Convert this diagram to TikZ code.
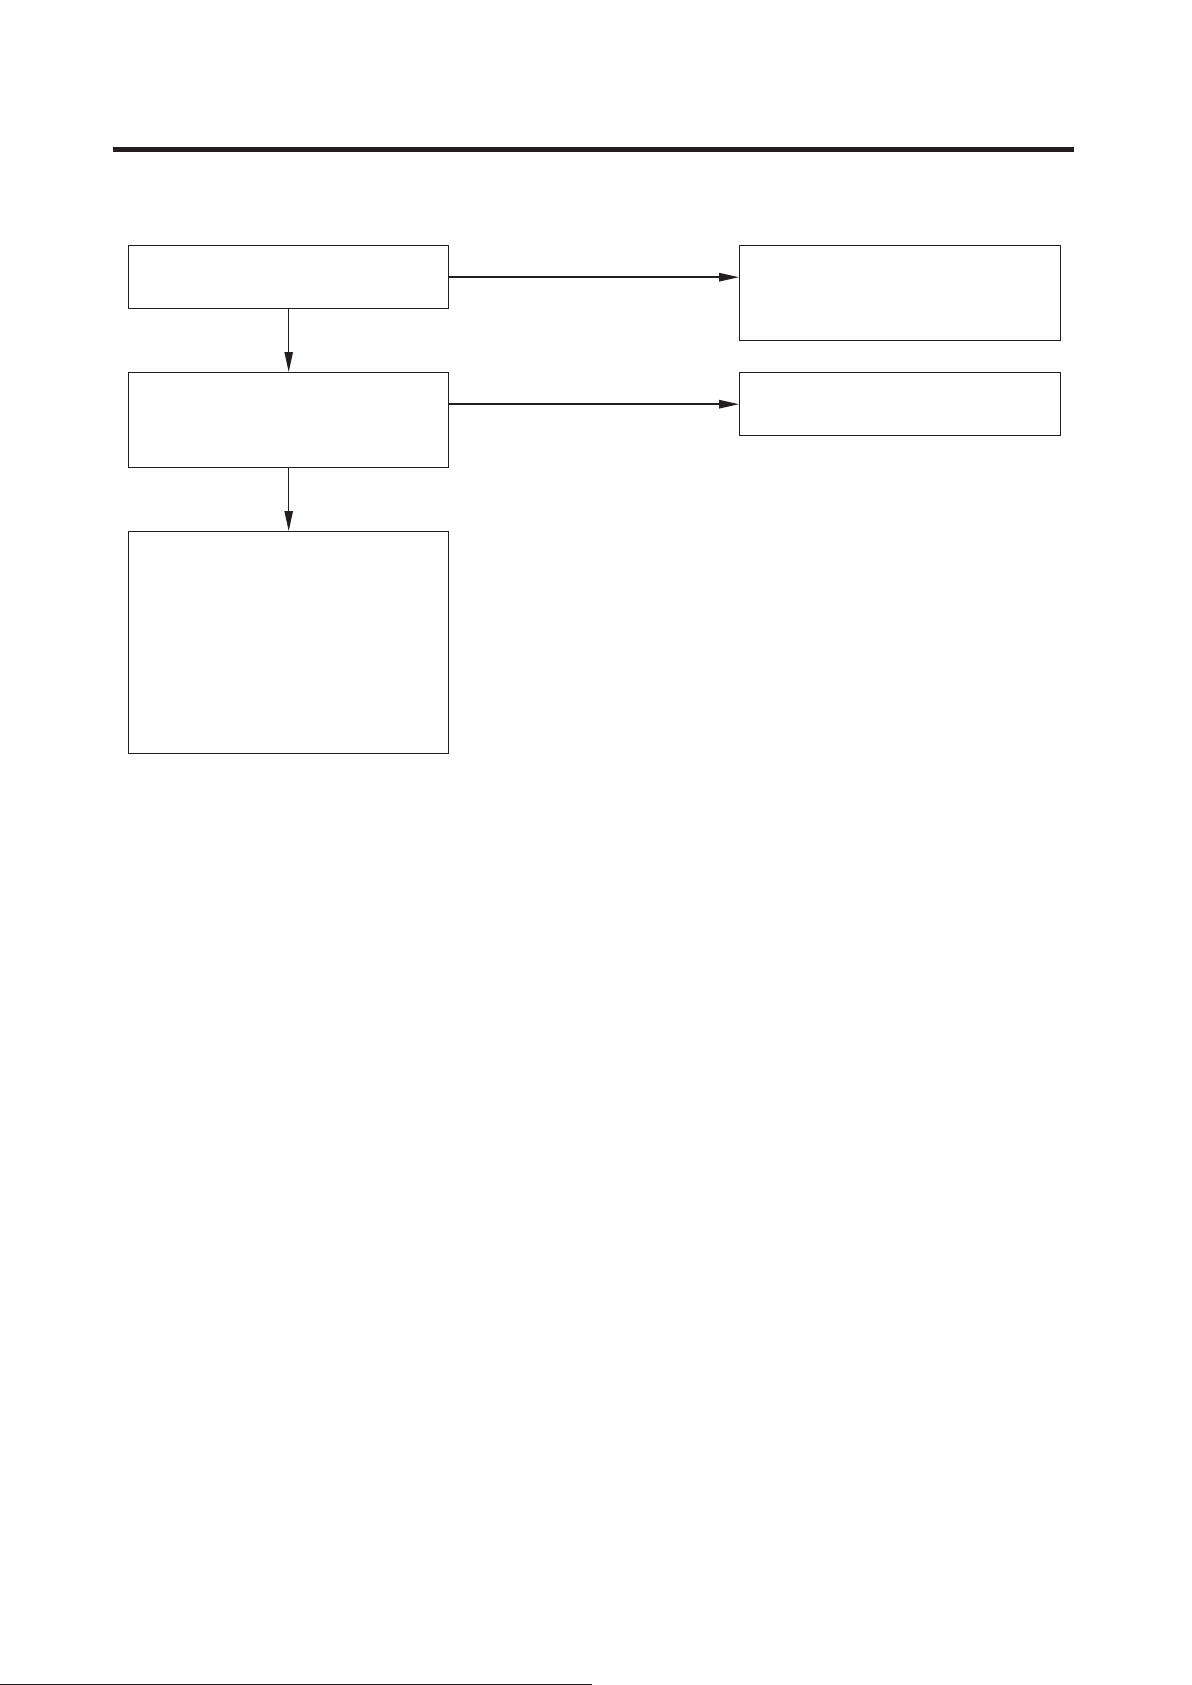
\documentclass[tikz,border=0pt]{standalone}
\usepackage{tikz}
\usetikzlibrary{arrows.meta,positioning}
\definecolor{ink}{HTML}{231F20}

\begin{document}
\begin{tikzpicture}[x=0.5pt,y=-0.5pt,
    box/.style={rectangle, draw=ink, line width=0.7pt, inner sep=0pt, anchor=north west, minimum width=160pt},
    conn/.style={draw=ink, line width=0.6pt, -{Triangle[length=10pt,width=4.2pt]}}]
  \useasboundingbox (0,0) rectangle (1191,1685);
  % heading rule
  \fill[ink] (113,147) rectangle (1074,152);

  \node (check) [box, minimum height=31.5pt] at (128,245) {};
  \node (test) [box, minimum height=47.5pt] at (128,372) {};
  \node (repair) [box, minimum height=111pt] at (128,531) {};
  \node (okA) [box, minimum width=160.5pt, minimum height=47.5pt] at (739,245) {};
  \node (okB) [box, minimum width=160.5pt, minimum height=31.5pt] at (739,372) {};

  \draw[conn] (check) -- (test);
  \draw[conn] (test) -- (repair);
  \draw[conn, line width=0.8pt] (check.east) -- (check.east -| okA.west);
  \draw[conn, line width=0.8pt] (okB.west -| test.east) -- (okB.west);

  % scan edge at the foot of the page
  \draw[ink, line width=0.5pt] (0,1684) -- (592,1684);
\end{tikzpicture}
\end{document}
